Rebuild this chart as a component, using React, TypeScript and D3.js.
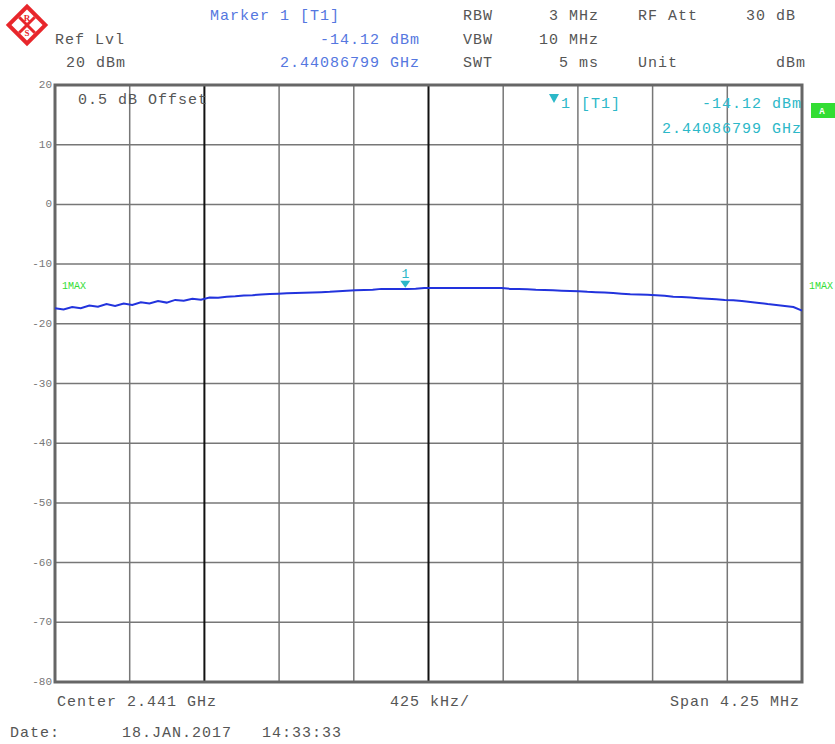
import * as d3 from "d3";

// Spectrum analyzer screen: R&S, channel power trace
const centerGHz = 2.441
const spanMHz = 4.25
const refLevel = 20
const yTickValues = [20, 10, 0, -10, -20, -30, -40, -50, -60, -70, -80]
const xDivisions = [0, 1, 2, 3, 4, 5, 6, 7, 8, 9, 10]
const darkDivisions = [2, 5]

// trace values in dBm, equally spaced across the span
const traceDbm = [
  -17.4, -17.6, -17.2, -17.4, -16.95, -17.15, -16.7, -17.0, -16.6, -16.85,
  -16.4, -16.6, -16.2, -16.45, -16.0, -16.15, -15.8, -15.95, -15.6, -15.65,
  -15.45, -15.4, -15.25, -15.2, -15.1, -15.0, -14.95, -14.9, -14.85, -14.8,
  -14.75, -14.7, -14.65, -14.55, -14.45, -14.4, -14.35, -14.3, -14.15, -14.15,
  -14.15, -14.15, -14.12, -14.0, -14.0, -14.0, -14.0, -14.0, -14.0, -14.0,
  -14.0, -14.0, -14.0, -14.15, -14.15, -14.2, -14.3, -14.35, -14.4, -14.45,
  -14.5, -14.55, -14.65, -14.7, -14.75, -14.85, -14.95, -15.05, -15.1, -15.15,
  -15.2, -15.3, -15.45, -15.5, -15.6, -15.7, -15.8, -15.9, -16.0, -16.05,
  -16.2, -16.35, -16.5, -16.7, -16.85, -17.0, -17.2, -17.8,
]

const markerFreqGHz = 2.44086799
const markerDbm = -14.12

const mono = "'Liberation Mono', 'DejaVu Sans Mono', monospace"
const grey = "#555"
const blue = "#5577e0"
const cyan = "#2cb8c8"
const green = "#33dd33"

const RsLogo = ({ x, y }: { x: number; y: number }) => (
  <g transform={`translate(${x},${y}) rotate(45)`}>
    <rect x={-15} y={-15} width={30} height={30} fill="#e8262b" />
    <rect x={-11} y={-11} width={22} height={22} fill="#fff" />
    <line x1={-11} y1={0} x2={11} y2={0} stroke="#e8262b" strokeWidth={3} />
    <line x1={0} y1={-11} x2={0} y2={11} stroke="#e8262b" strokeWidth={3} />
    <text x={-5.5} y={-2} fontSize={9} fill="#e8262b" textAnchor="middle" fontFamily="serif" fontWeight="bold" transform="rotate(-45,-5.5,-5.5)">R</text>
    <text x={5.5} y={9} fontSize={9} fill="#e8262b" textAnchor="middle" fontFamily="serif" fontWeight="bold" transform="rotate(-45,5.5,5.5)">S</text>
  </g>
)

export default function App() {
  const width = 835
  const height = 744
  const plot = { left: 55, right: 802, top: 85, bottom: 682 }

  const startGHz = centerGHz - spanMHz / 2000
  const stopGHz = centerGHz + spanMHz / 2000

  const x = d3.scaleLinear().domain([startGHz, stopGHz]).range([plot.left, plot.right])
  const y = d3.scaleLinear().domain([-80, refLevel]).range([plot.bottom, plot.top])
  const divScale = d3.scaleLinear().domain([0, 10]).range([startGHz, stopGHz])

  const n = traceDbm.length
  const tracePts: [number, number][] = traceDbm.map((v, i) => [
    startGHz + (i / (n - 1)) * (stopGHz - startGHz),
    v,
  ])
  const line = d3.line<[number, number]>()
    .x(d => x(d[0]))
    .y(d => y(d[1]))
  const tracePath = line(tracePts) || ""

  const mx = x(markerFreqGHz)
  const my = y(markerDbm)

  const txt = { fontFamily: mono, fontSize: 15, letterSpacing: 1 }

  return (
    <svg width={width} height={height} style={{ position: "absolute", left: 0, top: 0, background: "#fff" }}>
      <RsLogo x={27} y={25} />

      {/* header */}
      <g {...txt}>
        <text x={210} y={20} fill={blue}>Marker 1 [T1]</text>
        <text x={420} y={44} fill={blue} textAnchor="end">-14.12 dBm</text>
        <text x={420} y={67} fill={blue} textAnchor="end">2.44086799 GHz</text>
        <text x={55} y={44} fill={grey}>Ref Lvl</text>
        <text x={66} y={67} fill={grey}>20 dBm</text>
        <text x={463} y={20} fill={grey}>RBW</text>
        <text x={599} y={20} fill={grey} textAnchor="end">3 MHz</text>
        <text x={638} y={20} fill={grey}>RF Att</text>
        <text x={796} y={20} fill={grey} textAnchor="end">30 dB</text>
        <text x={463} y={44} fill={grey}>VBW</text>
        <text x={599} y={44} fill={grey} textAnchor="end">10 MHz</text>
        <text x={463} y={67} fill={grey}>SWT</text>
        <text x={599} y={67} fill={grey} textAnchor="end">5 ms</text>
        <text x={638} y={67} fill={grey}>Unit</text>
        <text x={806} y={67} fill={grey} textAnchor="end">dBm</text>
      </g>

      {/* grid */}
      {yTickValues.map(v => (
        <line key={`h${v}`} x1={plot.left} x2={plot.right} y1={y(v)} y2={y(v)} stroke="#777" strokeWidth={1.5} />
      ))}
      {xDivisions.map(i => (
        <line key={`v${i}`} x1={x(divScale(i))} x2={x(divScale(i))} y1={plot.top} y2={plot.bottom}
          stroke={darkDivisions.includes(i) ? "#111" : "#777"} strokeWidth={darkDivisions.includes(i) ? 2 : 1.5} />
      ))}
      <rect x={plot.left} y={plot.top} width={plot.right - plot.left} height={plot.bottom - plot.top}
        fill="none" stroke="#666" strokeWidth={3} />

      {/* y tick labels */}
      {yTickValues.map(v => (
        <text key={`t${v}`} x={plot.left - 3} y={y(v) + 3} textAnchor="end" fontFamily={mono} fontSize={11} fill="#777">{v}</text>
      ))}

      {/* in-plot annotations */}
      <text x={78} y={104} {...txt} fill={grey}>0.5 dB Offset</text>
      <path d="M549,94 L559,94 L554,103 Z" fill={cyan} />
      <text x={561} y={108} {...txt} fill={cyan}>1 [T1]</text>
      <text x={802} y={108} {...txt} fill={cyan} textAnchor="end">-14.12 dBm</text>
      <text x={802} y={133} {...txt} fill={cyan} textAnchor="end">2.44086799 GHz</text>

      <rect x={811} y={103} width={24} height={15} fill={green} />
      <text x={822} y={114} fontFamily={mono} fontSize={9} fontWeight="bold" fill="#fff" textAnchor="middle">A</text>

      <text x={62} y={289} fontFamily={mono} fontSize={10} fill={green}>1MAX</text>
      <text x={809} y={289} fontFamily={mono} fontSize={10} fill={green}>1MAX</text>

      {/* trace */}
      <path d={tracePath} fill="none" stroke="#2233dd" strokeWidth={2} />

      {/* marker */}
      <path d={`M${mx - 5},${my - 8} L${mx + 5},${my - 8} L${mx},${my - 1} Z`} fill={cyan} />
      <text x={mx} y={my - 11} textAnchor="middle" fontFamily={mono} fontSize={13} fill={cyan}>1</text>

      {/* footer */}
      <g {...txt} fill={grey}>
        <text x={57} y={706}>Center 2.441 GHz</text>
        <text x={390} y={706}>425 kHz/</text>
        <text x={800} y={706} textAnchor="end">Span 4.25 MHz</text>
        <text x={10} y={737}>Date:</text>
        <text x={122} y={737}>18.JAN.2017</text>
        <text x={262} y={737}>14:33:33</text>
      </g>
    </svg>
  )
}
